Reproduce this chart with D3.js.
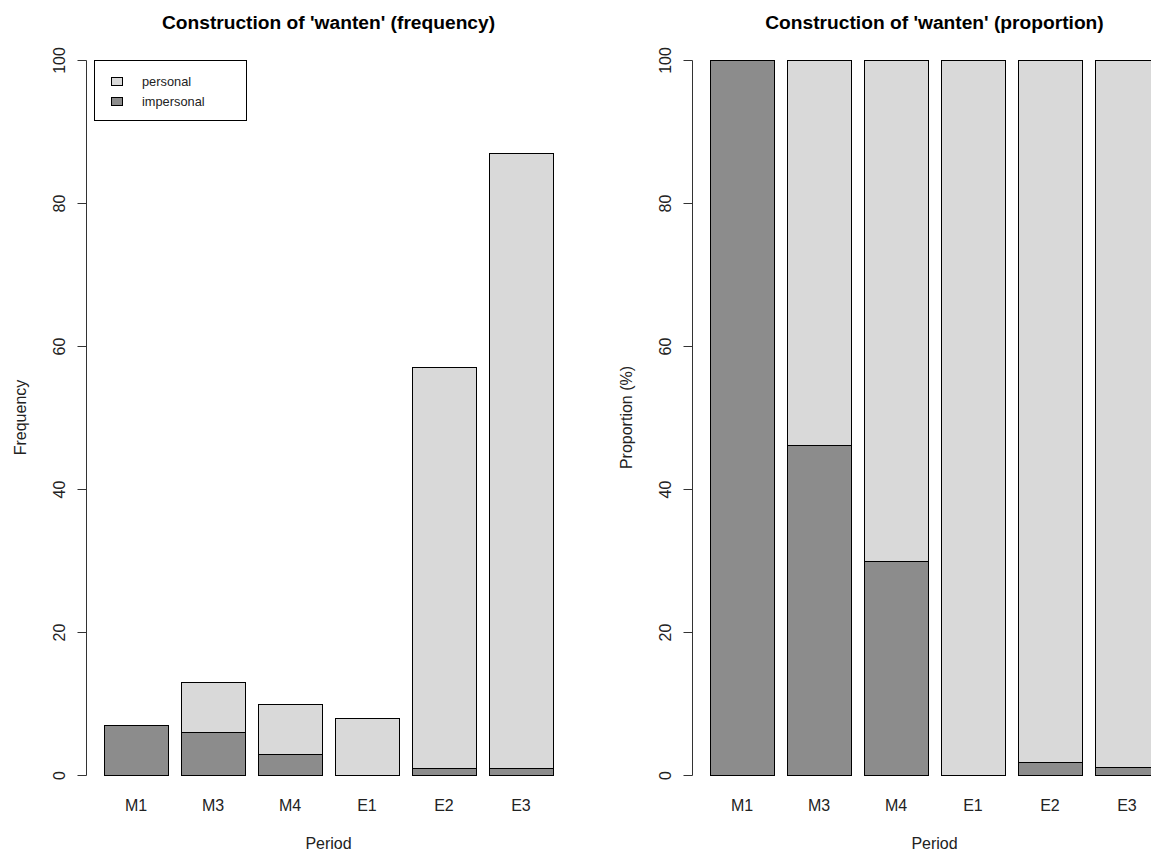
<!DOCTYPE html>
<html>
<head>
<meta charset="utf-8">
<script src="https://cdn.jsdelivr.net/npm/d3@7/dist/d3.min.js"></script>
<style>
  html, body { margin: 0; padding: 0; background: #fff; }
  svg { display: block; font-family: "Liberation Sans", Arial, sans-serif; }
</style>
</head>
<body>
<svg id="chart" width="1151" height="852"></svg>
<script>
// Periods and counts of each construction type
const periods = ["M1", "M3", "M4", "E1", "E2", "E3"];
const personal = [0, 7, 7, 8, 56, 86];
const impersonal = [7, 6, 3, 0, 1, 1];
const yTicks = [0, 20, 40, 60, 80, 100];
const seriesNames = ["personal", "impersonal"];
const seriesColors = { personal: "#d9d9d9", impersonal: "#8c8c8c" };

const svg = d3.select("#chart");

// Share of each construction per period, in percent
const totals = periods.map((p, i) => personal[i] + impersonal[i]);
const pctImpersonal = impersonal.map((v, i) => totals[i] ? v / totals[i] * 100 : 0);
const pctPersonal = personal.map((v, i) => totals[i] ? v / totals[i] * 100 : 0);

const panels = [
  { title: "Construction of 'wanten' (frequency)", ylab: "Frequency",
    lower: impersonal, upper: personal, left: 86, legend: true },
  { title: "Construction of 'wanten' (proportion)", ylab: "Proportion (%)",
    lower: pctImpersonal, upper: pctPersonal, left: 692, legend: false }
];

const plotW = 485;
const barWidth = 1, barSpace = 0.2;

panels.forEach(panel => {
  const g = svg.append("g");
  // bar positions in barplot units: bar i spans [0.2 + 1.2 i, 1.2 + 1.2 i]
  const xMin = barSpace, xMax = periods.length * (barWidth + barSpace);
  const pad = (xMax - xMin) * 0.04;
  const x = d3.scaleLinear().domain([xMin - pad, xMax + pad])
    .range([panel.left, panel.left + plotW]);
  const y = d3.scaleLinear().domain([0, 100]).range([775, 60]);

  const bars = periods.map((p, i) => {
    const x0 = barSpace + i * (barWidth + barSpace);
    return { p, x0, x1: x0 + barWidth, lo: panel.lower[i], hi: panel.lower[i] + panel.upper[i] };
  });

  const crisp = v => Math.round(v) + 0.5;

  // stacked segments: impersonal at the bottom, personal on top
  bars.forEach(b => {
    const xl = crisp(x(b.x0)), xr = crisp(x(b.x1));
    if (b.lo > 0) {
      g.append("rect")
        .attr("x", xl).attr("width", xr - xl)
        .attr("y", crisp(y(b.lo))).attr("height", crisp(y(0)) - crisp(y(b.lo)))
        .attr("fill", seriesColors.impersonal).attr("stroke", "#000").attr("stroke-width", 1);
    }
    if (b.hi - b.lo > 0) {
      g.append("rect")
        .attr("x", xl).attr("width", xr - xl)
        .attr("y", crisp(y(b.hi))).attr("height", crisp(y(b.lo)) - crisp(y(b.hi)))
        .attr("fill", seriesColors.personal).attr("stroke", "#000").attr("stroke-width", 1);
    }
  });

  // category labels under bars
  g.selectAll("text.cat").data(bars).enter().append("text")
    .attr("class", "cat")
    .attr("x", d => x((d.x0 + d.x1) / 2))
    .attr("y", 811)
    .attr("text-anchor", "middle")
    .attr("font-size", 16)
    .attr("fill", "#222")
    .text(d => d.p);

  // y axis
  const axisX = Math.round(x(xMin - pad)) + 0.5;
  const ax = g.append("g")
    .attr("transform", `translate(${axisX},0)`)
    .call(d3.axisLeft(y).tickValues(yTicks).tickSize(9).tickSizeOuter(0).tickPadding(0));
  ax.select(".domain").attr("stroke", "#333").attr("d", `M0,${y(0) + 0.5}V${y(100) + 0.5}`);
  ax.selectAll(".tick line").attr("stroke", "#333");
  ax.selectAll(".tick text")
    .attr("x", 0).attr("y", 0).attr("dy", null)
    .attr("transform", "translate(-22,0) rotate(-90)")
    .attr("text-anchor", "middle")
    .attr("font-size", 16)
    .attr("font-family", "Liberation Sans, Arial, sans-serif")
    .attr("fill", "#222");

  // titles
  const cx = panel.left + plotW / 2;
  g.append("text")
    .attr("x", cx).attr("y", 29)
    .attr("text-anchor", "middle")
    .attr("font-size", 19.2).attr("font-weight", "bold")
    .attr("fill", "#000")
    .text(panel.title);
  g.append("text")
    .attr("x", cx).attr("y", 849)
    .attr("text-anchor", "middle")
    .attr("font-size", 16).attr("fill", "#222")
    .text("Period");
  g.append("text")
    .attr("transform", `translate(${panel.left - 60},${(y(0) + y(100)) / 2}) rotate(-90)`)
    .attr("text-anchor", "middle")
    .attr("font-size", 16).attr("fill", "#222")
    .text(panel.ylab);

  // legend
  if (panel.legend) {
    const lg = g.append("g");
    lg.append("rect")
      .attr("x", 94.5).attr("y", 60.5).attr("width", 152).attr("height", 60)
      .attr("fill", "#fff").attr("stroke", "#000");
    seriesNames.forEach((name, i) => {
      const yy = 82 + i * 20;
      lg.append("rect")
        .attr("x", 111.5).attr("y", yy - 4.5).attr("width", 11).attr("height", 8)
        .attr("fill", seriesColors[name]).attr("stroke", "#000");
      lg.append("text")
        .attr("x", 142).attr("y", yy + 4)
        .attr("font-size", 12.8).attr("fill", "#222")
        .text(name);
    });
  }
});
</script>
</body>
</html>
